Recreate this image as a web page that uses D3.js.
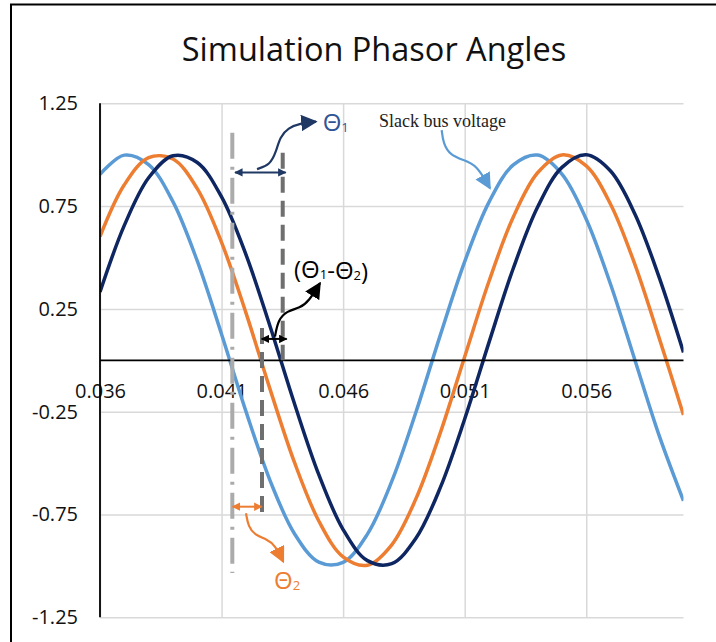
<!DOCTYPE html>
<html>
<head>
<meta charset="utf-8">
<script src="https://cdn.jsdelivr.net/npm/d3@7"></script>
<style>
  body { margin: 0; background: #fff; }
  svg { display: block; font-family: "Open Sans", sans-serif; }
</style>
</head>
<body>
<div class="mainView"></div>
<script>
// time axis samples (s), one every ms
let times = [0.036,0.037,0.038,0.039,0.040,0.041,0.042,0.043,0.044,0.045,0.046,0.047,0.048,
             0.049,0.050,0.051,0.052,0.053,0.054,0.055,0.056,0.057,0.058,0.059,0.060]
// slack bus voltage (light blue)
let slackBus = [0.9041,0.9979,0.9516,0.7716,0.4833,0.1271,-0.2470,-0.5864,-0.8434,-0.9820,-0.9826,-0.8453,-0.5892,
                -0.2504,0.1236,0.4802,0.7694,0.9505,0.9981,0.9056,0.6858,0.3697,0.0017,-0.3665,-0.6833]
// bus 2 (orange)
let bus2 = [0.6018,0.8536,0.9854,0.9789,0.8348,0.5736,0.2318,-0.1426,-0.4970,-0.7815,-0.9563,-0.9968,-0.8973,
            -0.6717,-0.3518,0.0175,0.3843,0.6972,0.9121,0.9990,0.9455,0.7593,0.4664,0.1080,-0.2656]
// bus 1 (dark blue)
let bus1 = [0.3322,0.6561,0.8878,0.9949,0.9622,0.7944,0.5150,0.1633,-0.2113,-0.5563,-0.8231,-0.9744,-0.9888,
            -0.8643,-0.6184,-0.2857,0.0872,0.4478,0.7455,0.9385,0.9997,0.9205,0.7120,0.4035,0.0384]

let xTicks = [0.036,0.041,0.046,0.051,0.056]
let yTicks = [1.25,0.75,0.25,-0.25,-0.75,-1.25]
let seriesNames = ["Slack bus","Bus 2","Bus 1"]
let seriesColors = ["#5B9BD5","#ED7D31","#0E2661"]

// annotation anchors, in data units [t, v]
let gapLines = [
  {kind:"dashdot", t:0.041442, v1:1.107, v2:-1.035},
  {kind:"dash",    t:0.043515, v1:1.010, v2:0.0},
  {kind:"dash",    t:0.042663, v1:0.157, v2:-0.761}
]
let spanArrows = [
  {color:"#1F3864", v:0.914,  t1:0.041553, t2:0.043638},
  {color:"#000000", v:0.104,  t1:0.042651, t2:0.043679},
  {color:"#ED7D31", v:-0.712, t1:0.041450, t2:0.042651}
]
let curvedArrows = [
  {color:"#1F3864", pts:[[0.042458,0.930],[0.042992,0.950],[0.043239,1.013],[0.043404,1.086],[0.043733,1.130],[0.044267,1.154],[0.044884,1.161]]},
  {color:"#000000", pts:[[0.043198,0.115],[0.043321,0.196],[0.043692,0.241],[0.044226,0.254],[0.044596,0.288],[0.045049,0.375]]},
  {color:"#ED7D31", pts:[[0.042005,-0.744],[0.042100,-0.809],[0.042375,-0.850],[0.042857,-0.871],[0.043198,-0.898],[0.043539,-0.980]]},
  {color:"#5B9BD5", pts:[[0.050054,1.120],[0.050120,1.055],[0.050396,0.999],[0.050943,0.974],[0.051494,0.950],[0.052041,0.837]]}
]
let thetaLabels = [
  {parts:["(","Θ","1","-","Θ","2",")"], color:"#000000", t:0.043979, v:0.400},
  {parts:["Θ","1"], color:"#2F5597", t:0.045160, v:1.115},
  {parts:["Θ","2"], color:"#ED7D31", t:0.043157, v:-1.112}
]

function getConfig(){
    let width = 716;
    let height = 642;
    let margin = {top: 103.3, left: 100, right: 32.5, bottom: 24.7};
    let bodyWidth = width - margin.left - margin.right;
    let bodyHeight = height - margin.top - margin.bottom;
    let svg = d3.select(".mainView").append("svg")
        .attr("width", width)
        .attr("height", height);
    return {width, height, margin, bodyWidth, bodyHeight, svg};
}

function getScales(config){
    let {margin, bodyWidth, bodyHeight} = config;
    let xScale = d3.scaleLinear()
        .domain([0.036, 0.060])
        .range([margin.left, margin.left + bodyWidth]);
    let yScale = d3.scaleLinear()
        .domain([-1.25, 1.25])
        .range([margin.top + bodyHeight, margin.top]);
    return {xScale, yScale};
}

function drawFrame(config){
    config.svg.append("rect")
        .attr("x", 11).attr("y", 4.5)
        .attr("width", 900).attr("height", 900)
        .attr("fill", "none")
        .attr("stroke", "#000")
        .attr("stroke-width", 2);

    config.svg.append("text")
        .attr("x", 374)
        .attr("y", 61)
        .attr("text-anchor", "middle")
        .style("font-size", "32.5px")
        .style("fill", "#111")
        .text("Simulation Phasor Angles");
}

function drawAxes(config, scales){
    let {svg, margin, bodyWidth, bodyHeight} = config;
    let {xScale, yScale} = scales;

    // horizontal gridlines + y labels (plain hyphen for negatives)
    let yAxis = svg.append("g")
        .attr("transform", "translate(" + margin.left + ",0)")
        .call(d3.axisLeft(yScale)
            .tickValues(yTicks)
            .tickSize(-bodyWidth)
            .tickPadding(22)
            .tickFormat((d) => d.toFixed(2)));
    yAxis.select(".domain").remove();
    yAxis.selectAll("line").attr("stroke", "#D9D9D9").attr("stroke-width", 1.5);
    yAxis.selectAll("text").style("font-size", "20px").style("font-family", "Open Sans").attr("fill", "#111");

    // vertical gridlines
    let xGrid = svg.append("g")
        .attr("transform", "translate(0," + (margin.top + bodyHeight) + ")")
        .call(d3.axisBottom(xScale)
            .tickValues(xTicks)
            .tickSize(-bodyHeight)
            .tickFormat(""));
    xGrid.select(".domain").remove();
    xGrid.selectAll("line").attr("stroke", "#D9D9D9").attr("stroke-width", 1.5);

    // x labels sit under the zero line
    let xAxis = svg.append("g")
        .attr("class", "xlabels")
        .attr("transform", "translate(0," + yScale(0) + ")")
        .call(d3.axisBottom(xScale)
            .tickValues(xTicks)
            .tickSize(0)
            .tickPadding(23.5)
            .tickFormat((d) => d.toFixed(3)));
    xAxis.select(".domain").remove();
    xAxis.selectAll("text").style("font-size", "20px").style("font-family", "Open Sans").attr("fill", "#111");
}

function drawAxisLines(config, scales){
    let {svg} = config;
    let {xScale, yScale} = scales;
    svg.append("line")
        .attr("x1", xScale(0.036)).attr("x2", xScale(0.036))
        .attr("y1", yScale(1.25)).attr("y2", yScale(-1.25))
        .attr("stroke", "#000").attr("stroke-width", 1.8);
    svg.append("line")
        .attr("x1", xScale(0.036)).attr("x2", xScale(0.060))
        .attr("y1", yScale(0)).attr("y2", yScale(0))
        .attr("stroke", "#000").attr("stroke-width", 1.8);
}

function drawLines(config, scales){
    let {svg, margin, bodyWidth, bodyHeight} = config;
    let {xScale, yScale} = scales;
    svg.append("clipPath").attr("id", "plotClip")
        .append("rect")
        .attr("x", margin.left).attr("y", margin.top)
        .attr("width", bodyWidth).attr("height", bodyHeight);

    let allSeries = [slackBus, bus2, bus1];
    let line = d3.line()
        .x((d, i) => xScale(times[i]))
        .y((d) => yScale(d))
        .curve(d3.curveCatmullRom);

    svg.append("g")
        .attr("clip-path", "url(#plotClip)")
        .selectAll("path")
        .data(allSeries)
        .enter()
        .append("path")
        .attr("d", (d) => line(d))
        .attr("fill", "none")
        .attr("stroke", (d, i) => seriesColors[i])
        .attr("stroke-width", 3.5)
        .attr("stroke-linejoin", "round");
}

function addMarkers(svg){
    let defs = svg.append("defs");
    let colors = ["#1F3864","#000000","#ED7D31","#5B9BD5"];
    colors.forEach((c, i) => {
        // small arrow for the span arrows
        defs.append("marker")
            .attr("id", "small" + i)
            .attr("viewBox", "0 0 10 10")
            .attr("refX", 9).attr("refY", 5)
            .attr("markerWidth", 4.2).attr("markerHeight", 4.2)
            .attr("orient", "auto-start-reverse")
            .append("path")
            .attr("d", "M0,0 L10,5 L0,10 Z")
            .attr("fill", c);
        // big filled arrow for the curved callouts
        defs.append("marker")
            .attr("id", "big" + i)
            .attr("viewBox", "0 0 10 10")
            .attr("refX", 9).attr("refY", 5)
            .attr("markerWidth", 7.5).attr("markerHeight", 7.5)
            .attr("orient", "auto")
            .append("path")
            .attr("d", "M0,0 L10,5 L0,10 Z")
            .attr("fill", c);
    });
    return colors;
}

function drawAnnotations(config, scales){
    let {svg} = config;
    let {xScale, yScale} = scales;
    let markerColors = addMarkers(svg);

    svg.append("g").selectAll("line")
        .data(gapLines)
        .enter()
        .append("line")
        .attr("x1", (d) => xScale(d.t)).attr("x2", (d) => xScale(d.t))
        .attr("y1", (d) => yScale(d.v1)).attr("y2", (d) => yScale(d.v2))
        .attr("stroke", (d) => d.kind == "dashdot" ? "#ABABAB" : "#6F6F6F")
        .attr("stroke-width", 4)
        .attr("stroke-dasharray", (d) => d.kind == "dashdot" ? "26,8,3,8" : "16,8");

    svg.append("g").selectAll("line")
        .data(spanArrows)
        .enter()
        .append("line")
        .attr("x1", (d) => xScale(d.t1)).attr("x2", (d) => xScale(d.t2))
        .attr("y1", (d) => yScale(d.v)).attr("y2", (d) => yScale(d.v))
        .attr("stroke", (d) => d.color)
        .attr("stroke-width", 2)
        .attr("marker-start", (d) => "url(#small" + markerColors.indexOf(d.color) + ")")
        .attr("marker-end", (d) => "url(#small" + markerColors.indexOf(d.color) + ")");

    let curve = d3.line()
        .x((d) => xScale(d[0]))
        .y((d) => yScale(d[1]))
        .curve(d3.curveBasis);
    svg.append("g").selectAll("path")
        .data(curvedArrows)
        .enter()
        .append("path")
        .attr("d", (d) => curve(d.pts))
        .attr("fill", "none")
        .attr("stroke", (d) => d.color)
        .attr("stroke-width", 2.2)
        .attr("marker-end", (d) => "url(#big" + markerColors.indexOf(d.color) + ")");

    // theta labels with subscripts
    thetaLabels.forEach((lab) => {
        let txt = svg.append("text")
            .attr("x", xScale(lab.t))
            .attr("y", yScale(lab.v))
            .style("font-size", "24px")
            .style("fill", lab.color);
        lab.parts.forEach((p) => {
            let sub = (p == "1" || p == "2");
            txt.append("tspan")
                .attr("dy", sub ? 1 : 0)
                .style("font-size", sub ? "13px" : "24px")
                .text(p);
            if (sub) {
                txt.append("tspan").attr("dy", -1).text("");
            }
        });
    });

    svg.append("text")
        .attr("x", xScale(0.047475))
        .attr("y", yScale(1.135))
        .style("font-family", "'Liberation Serif', 'Times New Roman', serif")
        .style("font-size", "18px")
        .style("fill", "#222")
        .text("Slack bus voltage");
}

let config = getConfig();
let scales = getScales(config);
drawFrame(config);
drawAxes(config, scales);
drawLines(config, scales);
drawAxisLines(config, scales);
drawAnnotations(config, scales);
</script>
</body>
</html>
